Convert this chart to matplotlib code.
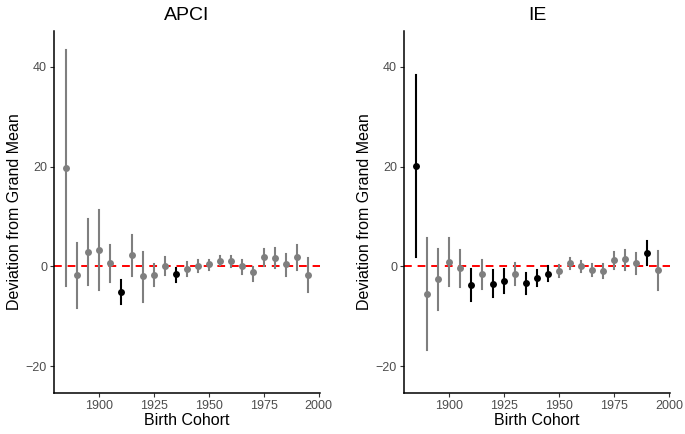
import matplotlib.pyplot as plt

plt.rcParams['font.family'] = ['Liberation Sans', 'DejaVu Sans']

cohorts = [1885, 1890, 1895, 1900, 1905, 1910, 1915, 1920, 1925, 1930, 1935, 1940,
           1945, 1950, 1955, 1960, 1965, 1970, 1975, 1980, 1985, 1990, 1995]

# APCI estimates with interval bounds
apci_est = [19.7, -1.8, 2.9, 3.4, 0.6, -5.1, 2.3, -2.0, -1.7, 0.1, -1.6, -0.5,
            0.1, 0.4, 1.1, 1.0, 0.0, -1.2, 1.8, 1.7, 0.4, 1.9, -1.7]
apci_hi = [43.3, 4.7, 9.5, 11.4, 4.3, -2.7, 6.3, 2.9, 0.5, 1.9, -0.3, 0.8,
           1.2, 1.2, 2.0, 2.0, 1.2, -0.1, 3.5, 3.7, 2.5, 4.3, 1.7]
apci_lo = [-4.0, -8.4, -3.8, -4.7, -3.2, -7.5, -1.9, -7.1, -4.0, -1.8, -3.2, -1.9,
           -1.1, -0.8, 0.2, -0.1, -1.5, -2.9, 0.0, -0.4, -2.0, -0.7, -5.2]
apci_sig = [0, 0, 0, 0, 0, 1, 0, 0, 0, 0, 1, 0,
            0, 0, 0, 0, 0, 0, 0, 0, 0, 0, 0]

# IE estimates with interval bounds
ie_est = [20.2, -5.5, -2.6, 0.9, -0.4, -3.7, -1.5, -3.5, -2.9, -1.5, -3.3, -2.3,
          -1.5, -0.9, 0.6, 0.0, -0.7, -0.9, 1.2, 1.4, 0.6, 2.7, -0.7]
ie_hi = [38.4, 5.7, 3.5, 5.7, 3.3, -0.5, 1.3, -0.8, -0.5, 0.7, -1.3, -0.7,
         0.0, 0.3, 1.7, 1.1, 0.5, 0.5, 2.8, 3.3, 2.7, 5.2, 3.1]
ie_lo = [1.8, -16.7, -8.8, -4.0, -4.2, -7.0, -4.5, -6.1, -5.3, -3.8, -5.5, -4.0,
         -3.0, -2.1, -0.5, -1.1, -1.9, -2.4, -0.5, -0.7, -1.6, 0.3, -4.7]
ie_sig = [1, 0, 0, 0, 0, 1, 0, 1, 1, 0, 1, 1,
          1, 0, 0, 0, 0, 0, 0, 0, 0, 1, 0]

fig = plt.figure(figsize=(6.85, 4.34), dpi=100)
ax1 = fig.add_axes([0.0788, 0.0952, 0.388, 0.8334])
ax2 = fig.add_axes([0.5898, 0.0952, 0.389, 0.8334])

panels = [(ax1, 'APCI', apci_est, apci_lo, apci_hi, apci_sig),
          (ax2, 'IE', ie_est, ie_lo, ie_hi, ie_sig)]

for ax, title, est, lo, hi, sig in panels:
    ax.axhline(0, color='#ff0000', linestyle=(0, (4, 3)), linewidth=1.4, zorder=1)
    for x, e, l, h, s in zip(cohorts, est, lo, hi, sig):
        col = 'black' if s else '#7f7f7f'
        ax.plot([x, x], [l, h], color=col, linewidth=1.5, zorder=2)
        ax.plot(x, e, 'o', color=col, markersize=5.0, markeredgewidth=0, zorder=3)
    ax.set_xlim(1879.5, 2000.5)
    ax.set_ylim(-25.3, 47.2)
    ax.set_xticks([1900, 1925, 1950, 1975, 2000])
    ax.set_yticks([-20, 0, 20, 40])
    ax.set_title(title, fontsize=14, pad=8)
    ax.set_xlabel('Birth Cohort', fontsize=11.5, labelpad=1)
    ax.set_ylabel('Deviation from Grand Mean', fontsize=11.5, labelpad=3)
    for s in ['top', 'right']:
        ax.spines[s].set_visible(False)
    for s in ['left', 'bottom']:
        ax.spines[s].set_linewidth(1.1)
        ax.spines[s].set_color('black')
    ax.tick_params(length=3, width=0.8, color='#333333', labelcolor='#4d4d4d',
                   labelsize=9, pad=2)

fig.savefig('out.png', dpi=100)
